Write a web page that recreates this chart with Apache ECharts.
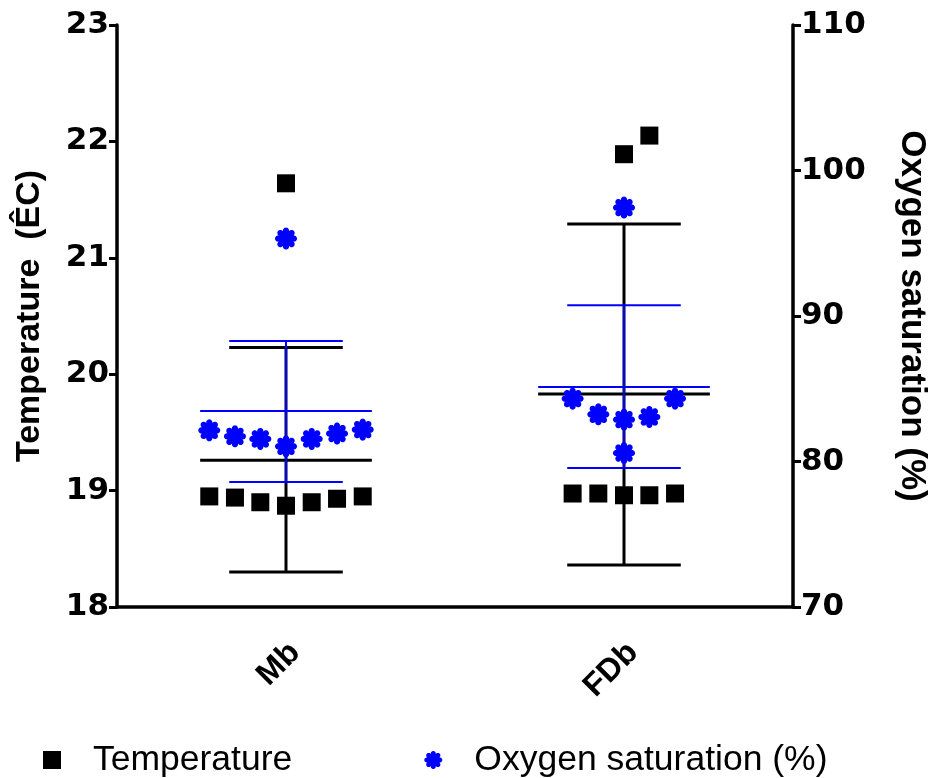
<!DOCTYPE html>
<html><head><meta charset="utf-8">
<script src="https://cdn.jsdelivr.net/npm/echarts@6/dist/echarts.min.js"></script>
<style>html,body{margin:0;padding:0;background:#fff}#c{width:934px;height:778px}</style>
</head><body><div id="c"></div>
<script>
// ---- data ----
const categories = ['Mb', 'FDb'];
const tempTicks = [18, 23, 1];      // min, max, step
const oxyTicks = [70, 110, 10];

// Temperature points (x position on a 0..2 scale, Mb centred at 0.5, FDb at 1.5)
const mbTempX = [0.273, 0.349, 0.424, 0.5, 0.576, 0.651, 0.727, 0.5];
const mbTemp  = [18.95, 18.94, 18.90, 18.87, 18.90, 18.93, 18.95, 21.64];
const fdbTempX = [1.348, 1.424, 1.5, 1.575, 1.651, 1.5, 1.575];
const fdbTemp  = [18.975, 18.975, 18.96, 18.96, 18.975, 21.89, 22.05];

// Oxygen saturation points
const mbOxyX = [0.273, 0.349, 0.424, 0.5, 0.576, 0.651, 0.727, 0.5];
const mbOxy  = [82.14, 81.73, 81.55, 81.04, 81.55, 81.92, 82.19, 95.32];
const fdbOxyX = [1.348, 1.424, 1.5, 1.575, 1.651, 1.5, 1.5];
const fdbOxy  = [84.32, 83.24, 82.88, 83.06, 84.32, 80.58, 97.45];

// Mean / lower / upper (mean ± SD) per group
const categoryX = [0.5, 1.5];
const tempMean = [19.26, 19.83];
const tempLow  = [18.30, 18.36];
const tempHigh = [20.23, 21.29];
const oxyMean = [83.47, 85.12];
const oxyLow  = [78.59, 79.55];
const oxyHigh = [88.28, 90.74];

// ---- styling / build ----
const FONT = '"Liberation Sans", Arial, sans-serif';
const TICKFONT = '"DejaVu Sans", "Liberation Sans", Arial, sans-serif';
function circlePoly(cx, cy, r, n) {
  const pts = [];
  for (let i = 0; i < n; i++) {
    const t = i / n * 2 * Math.PI;
    pts.push((cx + r * Math.cos(t)).toFixed(2) + ' ' + (cy + r * Math.sin(t)).toFixed(2));
  }
  return 'M' + pts.join(' L') + ' Z';
}
function flowerPath() {
  const parts = [circlePoly(50, 50, 32, 48)];
  for (let k = 0; k < 8; k++) {
    const a = k * Math.PI / 4 - Math.PI / 2;
    parts.push(circlePoly(50 + 36 * Math.cos(a), 50 + 36 * Math.sin(a), 14, 32));
  }
  return 'path://' + parts.join(' ');
}
const ASTER = flowerPath();

function pairs(xs, ys) { return xs.map((x, i) => [x, ys[i]]); }
function statRows(mean, lo, hi) { return categoryX.map((x, i) => [x, mean[i], lo[i], hi[i]]); }

function errRender(color, lw, mlw) {
  return function (params, api) {
    const x = api.value(0), m = api.value(1), lo = api.value(2), hi = api.value(3);
    const pm = api.coord([x, m]), pl = api.coord([x, lo]), ph = api.coord([x, hi]);
    const unit = api.size([1, 0])[0];
    const capW = 0.168 * unit, meanW = 0.254 * unit;
    const st = { stroke: color, lineWidth: lw, lineCap: 'butt' };
    return {
      type: 'group',
      children: [
        { type: 'line', shape: { x1: pm[0], y1: ph[1], x2: pm[0], y2: pl[1] }, style: st },
        { type: 'line', shape: { x1: pm[0] - capW, y1: ph[1], x2: pm[0] + capW, y2: ph[1] }, style: st },
        { type: 'line', shape: { x1: pm[0] - capW, y1: pl[1], x2: pm[0] + capW, y2: pl[1] }, style: st },
        { type: 'line', shape: { x1: pm[0] - meanW, y1: pm[1], x2: pm[0] + meanW, y2: pm[1] }, style: { stroke: color, lineWidth: mlw } }
      ]
    };
  };
}

const axisLineStyle = { color: '#000', width: 3.5 };
const chart = echarts.init(document.getElementById('c'), null, { renderer: 'canvas' });
chart.setOption({
  animation: false,
  backgroundColor: '#fff',
  textStyle: { fontFamily: FONT },
  grid: { left: 117, right: 141, top: 25, bottom: 171, containLabel: false, outerBoundsMode: 'none' },
  legend: {
    data: ['Temperature', 'Oxygen saturation (%)'],
    left: 38, top: 737,
    itemWidth: 18, itemHeight: 18, itemGap: 132,
    textStyle: { fontSize: 35.5, color: '#000', fontFamily: FONT, padding: [0, 0, 0, 27] }
  },
  xAxis: [
    {
      type: 'category', data: categories, boundaryGap: true,
      axisLine: { lineStyle: axisLineStyle },
      axisTick: { alignWithLabel: true, length: 10, lineStyle: { color: '#000', width: 3 } },
      axisLabel: { rotate: 45, fontSize: 32, fontWeight: 'bold', color: '#000', margin: 50, fontFamily: FONT, padding: [0, -13, 0, 0] },
      splitLine: { show: false }
    },
    { type: 'value', min: 0, max: 2, show: false }
  ],
  yAxis: [
    {
      type: 'value', min: tempTicks[0], max: tempTicks[1], interval: tempTicks[2],
      name: 'Temperature  (ÊC)', nameLocation: 'middle', nameGap: 70, nameRotate: 90,
      nameTextStyle: { fontSize: 34, fontWeight: 'bold', color: '#000', fontFamily: FONT },
      axisLine: { show: true, lineStyle: axisLineStyle },
      axisTick: { show: true, length: 8, lineStyle: { color: '#000', width: 3 } },
      axisLabel: { fontSize: 31, fontWeight: 'bold', color: '#000', margin: 8, fontFamily: TICKFONT },
      splitLine: { show: false }
    },
    {
      type: 'value', position: 'right', min: oxyTicks[0], max: oxyTicks[1], interval: oxyTicks[2],
      name: 'Oxygen saturation (%)', nameLocation: 'middle', nameGap: 101, nameRotate: -90,
      nameTextStyle: { fontSize: 35, fontWeight: 'bold', color: '#000', fontFamily: FONT },
      axisLine: { show: true, lineStyle: axisLineStyle },
      axisTick: { show: true, length: 8, lineStyle: { color: '#000', width: 3 } },
      axisLabel: { fontSize: 31, fontWeight: 'bold', color: '#000', margin: 8, fontFamily: TICKFONT },
      splitLine: { show: false }
    }
  ],
  series: [
    {
      type: 'custom', name: 'tempErr', xAxisIndex: 1, yAxisIndex: 0,
      renderItem: errRender('#000', 3, 3),
      encode: { x: 0, y: [1, 2, 3] },
      data: statRows(tempMean, tempLow, tempHigh), z: 2, silent: true
    },
    {
      type: 'custom', name: 'oxyErr', xAxisIndex: 1, yAxisIndex: 1,
      renderItem: errRender('#0000ff', 2, 1.8),
      encode: { x: 0, y: [1, 2, 3] },
      data: statRows(oxyMean, oxyLow, oxyHigh), z: 3, silent: true
    },
    {
      type: 'scatter', name: 'Temperature', xAxisIndex: 1, yAxisIndex: 0,
      symbol: 'rect', symbolSize: 18,
      itemStyle: { color: '#000', opacity: 1 },
      data: pairs(mbTempX, mbTemp).concat(pairs(fdbTempX, fdbTemp)), z: 4
    },
    {
      type: 'scatter', name: 'Oxygen saturation (%)', xAxisIndex: 1, yAxisIndex: 1,
      symbol: ASTER, symbolSize: 22,
      itemStyle: { color: '#0000ff', opacity: 1 },
      data: pairs(mbOxyX, mbOxy).concat(pairs(fdbOxyX, fdbOxy)), z: 5
    }
  ]
});
</script>
</body></html>
